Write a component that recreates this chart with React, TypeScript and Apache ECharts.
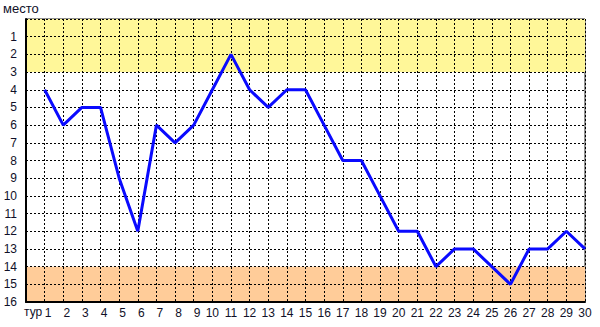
import React, { useEffect, useRef } from "react";
import * as echarts from "echarts";

const rounds: number[] = Array.from({ length: 30 }, (_, i) => i + 1);
const places: number[] = [4, 6, 5, 5, 9, 12, 6, 7, 6, 4, 2, 4, 5, 4, 4, 6, 8, 8, 10, 12, 12, 14, 13, 13, 14, 15, 13, 13, 12, 13];
const topBand: [number, number] = [0, 3];
const bottomBand: [number, number] = [14, 16];
const yTitle = "место";
const xTitle = "тур";

export default function App() {
  const ref = useRef<HTMLDivElement>(null);
  useEffect(() => {
    if (!ref.current) return;
    const chart = echarts.init(ref.current, null, { renderer: "svg" });
    const font = "Liberation Sans";
    const txt = "#101028";
    const dash = { color: "#000", width: 1, type: [2, 2] as number[] };
    chart.setOption({
      animation: false,
      backgroundColor: "#fff",
      grid: { left: 26, right: 15, top: 19, bottom: 25, show: true, borderColor: "#222", borderWidth: 1 },
      xAxis: {
        type: "value",
        min: 0,
        max: 30,
        interval: 1,
        z: 3,
        axisLine: { show: true, onZero: false, lineStyle: { color: "#000", width: 2 } },
        axisTick: { show: false },
        splitLine: { show: true, lineStyle: dash },
        axisLabel: {
          margin: 5,
          color: txt,
          fontFamily: font,
          fontSize: 12,
          formatter: (v: number) => (v === 0 ? "" : v < 10 ? `{a|${v}}` : String(v)),
          rich: { a: { padding: [0, 0, 0, 7], color: txt, fontFamily: font, fontSize: 12 } },
        },
      },
      yAxis: {
        type: "value",
        inverse: true,
        min: 0,
        max: 16,
        interval: 1,
        z: 3,
        axisLine: { show: true, onZero: false, lineStyle: { color: "#000", width: 2 } },
        axisTick: { show: false },
        splitLine: { show: true, lineStyle: dash },
        axisLabel: {
          margin: 9,
          color: txt,
          fontFamily: font,
          fontSize: 12,
          formatter: (v: number) => (v === 0 ? "" : String(v)),
        },
      },
      graphic: [
        { type: "text", left: 3, top: 2, style: { text: yTitle, fill: txt, font: `13px "${font}"` } },
        { type: "text", left: 24, top: 306, style: { text: xTitle, fill: txt, font: `12px "${font}"` } },
      ],
      series: [
        {
          type: "line",
          data: [],
          z: 1,
          markArea: {
            silent: true,
            itemStyle: { opacity: 1 },
            data: [
              [{ yAxis: topBand[0], itemStyle: { color: "#fff799" } }, { yAxis: topBand[1] }],
              [{ yAxis: bottomBand[0], itemStyle: { color: "#ffcc99" } }, { yAxis: bottomBand[1] }],
            ],
          },
        },
        {
          type: "line",
          data: rounds.map((r, i) => [r, places[i]]),
          symbol: "none",
          lineStyle: { color: "#0a0aff", width: 3 },
          z: 5,
        },
      ],
    });
    return () => chart.dispose();
  }, []);
  return <div ref={ref} style={{ position: "absolute", left: 0, top: 0, width: 600, height: 327 }} />;
}
